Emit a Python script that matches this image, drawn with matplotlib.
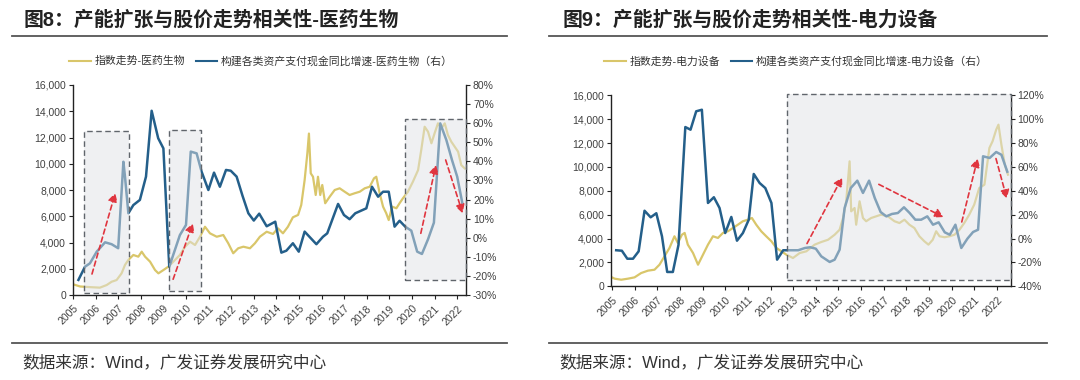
import matplotlib
matplotlib.use('Agg')
import matplotlib.pyplot as plt
from matplotlib.patches import Rectangle
from matplotlib.lines import Line2D
from matplotlib.ticker import FuncFormatter

plt.rcParams['font.family'] = ['Liberation Sans', 'Noto Sans CJK SC', 'DejaVu Sans']

# ---------------- data ----------------
years = list(range(2005, 2023))

# 图8 医药生物
med_idx_t = [2005.0, 2005.31, 2005.75, 2006.19, 2006.49, 2006.71, 2006.93, 2007.15, 2007.30, 2007.45,
             2007.67, 2007.89, 2008.04, 2008.19, 2008.41, 2008.63, 2008.78, 2009.0, 2009.22, 2009.44,
             2009.73, 2009.96, 2010.18, 2010.40, 2010.62, 2010.84, 2011.06, 2011.36, 2011.65, 2011.87,
             2012.09, 2012.31, 2012.54, 2012.83, 2013.05, 2013.27, 2013.57, 2013.85, 2014.07, 2014.29,
             2014.51, 2014.73, 2014.96, 2015.10, 2015.25, 2015.37, 2015.44, 2015.52, 2015.62, 2015.74,
             2015.84, 2015.94, 2016.03, 2016.16, 2016.36, 2016.58, 2016.80, 2017.02, 2017.24, 2017.46,
             2017.69, 2017.91, 2018.13, 2018.32, 2018.42, 2018.57, 2018.72, 2018.86, 2018.97, 2019.12,
             2019.31, 2019.45, 2019.60, 2019.82, 2020.04, 2020.27, 2020.41, 2020.56, 2020.71, 2020.86,
             2021.0, 2021.15, 2021.30, 2021.45, 2021.59, 2021.74, 2021.89, 2022.04, 2022.18, 2022.33]
med_idx_v = [820, 650, 600, 560, 760, 1010, 1140, 1650, 2290, 2670,
             3050, 2920, 3300, 2920, 2540, 1900, 1650, 1900, 2160, 2540,
             3050, 3680, 4060, 3810, 4440, 5200, 4700, 4440, 4570, 3940,
             3180, 3560, 3680, 3560, 3940, 4440, 4820, 4650, 5080, 4700,
             5200, 5920, 6100, 6860, 8760, 10800, 12300, 9270, 9010, 7620,
             9010, 7620, 8380, 6990, 7490, 8000, 8130, 7870, 7620, 7750,
             7870, 8130, 8250, 8890, 9010, 7750, 6730, 6230, 5710, 6730,
             6610, 6990, 7370, 7870, 8630, 9520, 11050, 12820, 12440, 11560,
             12320, 13080, 12700, 13080, 12190, 11680, 11300, 10920, 9900, 9650]

med_cap_t = [2005.24, 2005.53, 2005.75, 2006.05, 2006.42, 2006.71, 2007.0, 2007.23, 2007.30, 2007.45,
             2007.67, 2007.96, 2008.23, 2008.48, 2008.77, 2009.0, 2009.26, 2009.73, 2010.0, 2010.21,
             2010.47, 2010.69, 2010.99, 2011.24, 2011.50, 2011.77, 2011.98, 2012.24, 2012.50, 2012.76,
             2013.0, 2013.24, 2013.57, 2013.95, 2014.22, 2014.44, 2014.73, 2014.99, 2015.25, 2015.77,
             2016.06, 2016.25, 2016.73, 2016.99, 2017.24, 2017.49, 2017.98, 2018.23, 2018.50, 2018.72,
             2018.97, 2019.23, 2019.45, 2019.70, 2019.97, 2020.23, 2020.44, 2020.71, 2020.97, 2021.25,
             2021.52, 2021.77, 2022.0, 2022.23]
med_cap_v = [-22.1, -15.2, -13.4, -7.3, -2.4, -3.4, -5.5, 39.8, 32.0, 12.8,
             17.1, 19.8, 32.0, 66.5, 52.1, 46.8, -15.2, 1.4, 6.7, 45.1,
             44.2, 34.6, 25.0, 34.1, 26.7, 35.5, 35.1, 32.0, 22.0, 12.8,
             9.0, 12.6, 6.0, 8.4, -7.8, -6.8, -2.9, -7.3, 3.2, -3.4,
             0.5, 2.3, 17.7, 11.9, 9.7, 12.8, 15.4, 26.7, 21.5, 24.1,
             24.1, 5.8, 8.9, 5.8, 3.7, -7.3, -8.5, -0.8, 7.9, 59.9,
             51.2, 40.7, 32.0, 18.0]

# highlighted periods (x0, x1, y0, y1) in left-axis units
med_boxes = [(2005.49, 2007.48, 175, 12500),
             (2009.27, 2010.66, 280, 12570),
             (2019.71, 2022.38, 1120, 13410)]
# trend arrows (x0, y0, x1, y1) in left-axis units
med_arrows = [(2005.84, 1600, 2006.87, 7770),
              (2009.43, 1200, 2010.30, 5460),
              (2020.39, 4700, 2021.06, 9900),
              (2021.49, 10290, 2022.24, 6230)]

# 图9 电力设备
pe_idx_t = [2005.0, 2005.12, 2005.41, 2005.71, 2006.0, 2006.29, 2006.59, 2006.88, 2007.10, 2007.32,
            2007.54, 2007.76, 2007.91, 2008.09, 2008.21, 2008.35, 2008.58, 2008.80, 2009.02, 2009.24,
            2009.46, 2009.68, 2009.90, 2010.12, 2010.34, 2010.56, 2010.78, 2011.0, 2011.18, 2011.37,
            2011.59, 2011.81, 2012.04, 2012.26, 2012.48, 2012.70, 2012.99, 2013.29, 2013.58, 2013.95,
            2014.24, 2014.54, 2014.83, 2015.05, 2015.20, 2015.34, 2015.49, 2015.56, 2015.71, 2015.78,
            2015.93, 2016.08, 2016.22, 2016.44, 2016.66, 2016.88, 2017.18, 2017.47, 2017.69, 2017.91,
            2018.13, 2018.35, 2018.57, 2018.79, 2018.97, 2019.16, 2019.31, 2019.46, 2019.68, 2019.90,
            2020.12, 2020.34, 2020.55, 2020.77, 2020.99, 2021.21, 2021.44, 2021.66, 2021.80, 2021.96,
            2022.06, 2022.19, 2022.34, 2022.48]
pe_idx_v = [750, 640, 550, 640, 750, 1110, 1310, 1390, 1810, 2510,
            3210, 4190, 3630, 4320, 4470, 3490, 2790, 1810, 2650, 3490,
            4190, 4050, 4470, 4610, 4880, 5160, 5450, 5580, 5720, 5160,
            4610, 4190, 3770, 3210, 2930, 2650, 2370, 2790, 2930, 3490,
            3710, 3900, 4320, 4740, 5720, 7120, 10470, 6280, 6560, 5160,
            7120, 5720, 5450, 5720, 5860, 6000, 5860, 5450, 5300, 5580,
            5160, 4880, 4190, 3770, 3490, 3900, 4610, 4190, 4110, 4190,
            4320, 4740, 5300, 6000, 6840, 8230, 8510, 11590, 12150, 13120,
            13540, 11860, 10190, 9350]

pe_cap_t = [2005.19, 2005.44, 2005.68, 2005.93, 2006.18, 2006.44, 2006.71, 2006.96, 2007.21, 2007.44,
            2007.69, 2007.94, 2008.24, 2008.47, 2008.72, 2008.97, 2009.24, 2009.50, 2009.75, 2010.0,
            2010.27, 2010.52, 2010.78, 2011.04, 2011.26, 2011.52, 2011.77, 2012.04, 2012.29, 2012.56,
            2012.85, 2013.22, 2013.52, 2013.75, 2014.0, 2014.24, 2014.61, 2014.83, 2015.05, 2015.27,
            2015.54, 2015.83, 2016.08, 2016.35, 2016.60, 2016.86, 2017.11, 2017.36, 2017.62, 2017.89,
            2018.14, 2018.39, 2018.65, 2018.92, 2019.17, 2019.42, 2019.69, 2019.91, 2020.16, 2020.42,
            2020.69, 2020.94, 2021.16, 2021.38, 2021.67, 2021.96, 2022.19, 2022.45]
pe_cap_v = [-9.8, -10.2, -16.9, -16.9, -10.7, 23.3, 17.8, 21.2, 1.9, -28.0,
            -28.0, -5.2, 93.4, 91.2, 106.6, 107.9, 29.8, 34.6, 25.6, 4.6,
            18.1, -1.8, 4.6, 15.8, 54.1, 46.5, 42.3, 29.8, -17.7, -9.8,
            -9.8, -9.8, -7.9, -7.3, -8.5, -14.9, -19.6, -17.7, -9.3, 25.6,
            42.3, 48.5, 38.2, 48.5, 34.0, 22.2, 18.6, 20.6, 21.4, 26.2,
            21.4, 15.8, 15.8, 18.6, 11.6, 13.6, 5.2, 3.2, 11.6, -7.9,
            -0.1, 5.5, 7.4, 68.9, 67.5, 72.5, 70.2, 56.0]

pe_boxes = [(2012.73, 2022.6, 530, 16150)]
# arrows in right-axis (%) units
pe_arrows = [(2013.61, -4.2, 2015.16, 51.1),
             (2016.78, 45.4, 2019.63, 18.0),
             (2020.44, 13.9, 2021.14, 67.0),
             (2021.95, 67.0, 2022.43, 33.5)]

# ---------------- style ----------------
W, H = 1080, 380
YEL = '#d9c66a'
BLU = '#245f8a'
RED = '#e0353f'
TXT = '#333333'

fig = plt.figure(figsize=(W / 100, H / 100), dpi=100)
fig.patch.set_facecolor('white')


def fx(px):
    return px / W


def fy(py):
    return 1 - py / H


def panel(box_px, xlim, ylim2, step2, idx_t, idx_v, cap_t, cap_v,
          boxes, arrows, arrow_on_right, title, title_x, rule_x, legend_cx, labels):
    l, t, r, b = box_px
    ax = fig.add_axes([fx(l), fy(b), fx(r - l), fy(t) - fy(b)])
    ax2 = ax.twinx()
    ax.plot(idx_t, idx_v, color=YEL, lw=1.6, zorder=2)
    ax2.plot(cap_t, cap_v, color=BLU, lw=1.8, zorder=2)
    ax.set_xlim(*xlim)
    ax.set_ylim(0, 16000)
    ax.set_yticks(range(0, 16001, 2000))
    ax.yaxis.set_major_formatter(FuncFormatter(lambda v, p: f'{v:,.0f}'))
    ax2.set_ylim(*ylim2)
    ax2.set_yticks(range(ylim2[0], ylim2[1] + 1, step2))
    ax2.yaxis.set_major_formatter(FuncFormatter(lambda v, p: f'{v:.0f}%'))
    ax.set_xticks(years)
    ax.set_xticklabels([str(y) for y in years], rotation=45, ha='right',
                       rotation_mode='anchor')
    for a in (ax, ax2):
        a.patch.set_visible(False)
        a.spines['top'].set_visible(False)
        for s in a.spines.values():
            s.set_color('#222222')
            s.set_linewidth(1.0)
        a.tick_params(direction='out', length=3, width=0.8, labelsize=7.5,
                      labelcolor='#404040', color='#222222', pad=2)
    ax.spines['right'].set_visible(False)
    ax2.spines['left'].set_visible(False)
    ax2.spines['bottom'].set_visible(False)
    ax.tick_params(axis='x', pad=3)

    for (x0, x1, y0, y1) in boxes:
        ax2.add_patch(Rectangle((x0, y0), x1 - x0, y1 - y0, transform=ax.transData,
                                facecolor='#e0e3e7', alpha=0.5, edgecolor='none',
                                zorder=5, clip_on=False))
        ax2.add_patch(Rectangle((x0, y0), x1 - x0, y1 - y0, transform=ax.transData,
                                fill=False, edgecolor='#60656b', lw=1.0,
                                linestyle=(0, (4, 2.5)), zorder=6, clip_on=False))
    tr = ax2.transData if arrow_on_right else ax.transData
    for (x0, y0, x1, y1) in arrows:
        ax2.annotate('', xy=(x1, y1), xytext=(x0, y0), xycoords=tr, textcoords=tr,
                     arrowprops=dict(arrowstyle='-|>,head_length=0.5,head_width=0.28',
                                     color=RED, lw=1.2, linestyle=(0, (3, 2)),
                                     shrinkA=0, shrinkB=0),
                     zorder=7, annotation_clip=False)

    fig.text(fx(title_x), fy(20), title, fontsize=14.3, fontweight='bold',
             color='#222222', ha='left', va='center')
    fig.add_artist(Line2D([fx(rule_x[0]), fx(rule_x[1])], [fy(36), fy(36)],
                          color='#555555', lw=1.3))
    fig.add_artist(Line2D([fx(rule_x[0]), fx(rule_x[1])], [fy(343), fy(343)],
                          color='#555555', lw=1.3))
    fig.text(fx(rule_x[0] + 10), fy(362), '数据来源：Wind，广发证券发展研究中心',
             fontsize=12, color=TXT, ha='left', va='center')
    handles = [Line2D([], [], color=YEL, lw=1.5), Line2D([], [], color=BLU, lw=1.5)]
    fig.legend(handles, labels, loc='center', bbox_to_anchor=(fx(legend_cx), fy(61)),
               ncol=2, frameon=False, fontsize=7.8, handlelength=2.0,
               handletextpad=0.3, columnspacing=1.0, labelcolor=TXT)
    return ax, ax2


panel((73, 85, 466, 295), (2005, 2022.39), (-30, 80), 10,
      med_idx_t, med_idx_v, med_cap_t, med_cap_v, med_boxes, med_arrows, False,
      '图8：产能扩张与股价走势相关性-医药生物', 24, (12, 507), 261,
      ['指数走势-医药生物', '构建各类资产支付现金同比增速-医药生物（右）'])

panel((611, 95.3, 1010.7, 286.3), (2004.96, 2022.6), (-40, 120), 20,
      pe_idx_t, pe_idx_v, pe_cap_t, pe_cap_v, pe_boxes, pe_arrows, True,
      '图9：产能扩张与股价走势相关性-电力设备', 563, (549, 1047), 796,
      ['指数走势-电力设备', '构建各类资产支付现金同比增速-电力设备（右）'])

fig.savefig('out.png', dpi=100, facecolor='white')
